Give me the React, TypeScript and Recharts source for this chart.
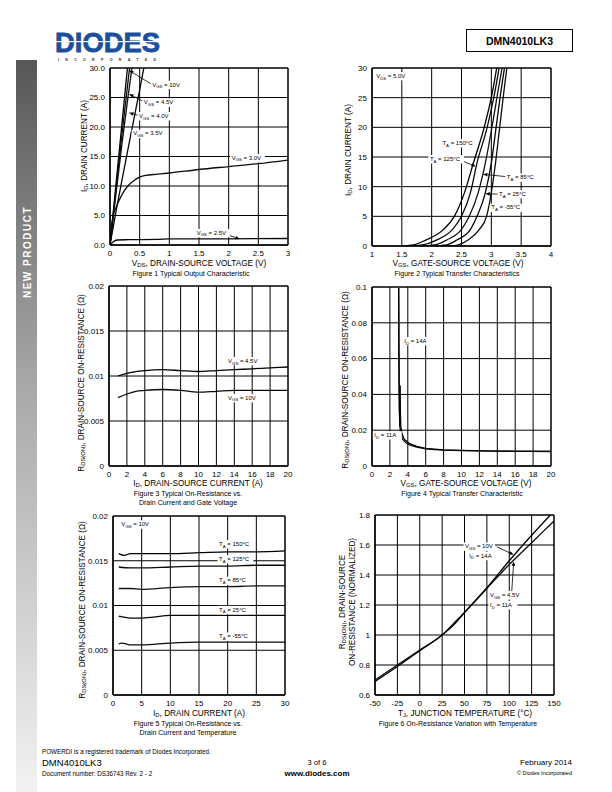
import React from 'react';
import { ComposedChart, Line, XAxis, YAxis, CartesianGrid, ReferenceLine, ReferenceArea, Scatter } from 'recharts';

const FONT = '"Liberation Sans", Arial, Helvetica, sans-serif';

type Pt = { x: number; y: number };
type Anno = { x: number; y: number; text: string };
type Arrow = { from: Pt; to: Pt };

// ---------- Figure 1: Typical Output Characteristic ----------
const f1XTicks = [0, 0.5, 1, 1.5, 2, 2.5, 3];
const f1YTicks = [0, 5, 10, 15, 20, 25, 30];
const f1Vgs10: Pt[] = [{ x: 0, y: 0 }, { x: 0.1, y: 10.2 }, { x: 0.2, y: 20.4 }, { x: 0.294, y: 30 }];
const f1Vgs45: Pt[] = [{ x: 0, y: 0 }, { x: 0.1, y: 9.4 }, { x: 0.2, y: 18.6 }, { x: 0.33, y: 30 }];
const f1Vgs40: Pt[] = [{ x: 0, y: 0 }, { x: 0.1, y: 8.6 }, { x: 0.2, y: 17 }, { x: 0.3, y: 24.8 }, { x: 0.37, y: 30 }];
const f1Vgs35: Pt[] = [{ x: 0, y: 0 }, { x: 0.1, y: 5.6 }, { x: 0.2, y: 10.9 }, { x: 0.3, y: 16.1 }, { x: 0.4, y: 21.2 }, { x: 0.5, y: 26.3 }, { x: 0.57, y: 30 }];
const f1Vgs30: Pt[] = [{ x: 0, y: 0 }, { x: 0.02, y: 2.5 }, { x: 0.05, y: 4.8 }, { x: 0.1, y: 6.3 }, { x: 0.2, y: 8.5 }, { x: 0.3, y: 10 }, { x: 0.4, y: 10.9 }, { x: 0.5, y: 11.5 }, { x: 0.6, y: 11.8 }, { x: 0.8, y: 12 }, { x: 1, y: 12.2 }, { x: 1.5, y: 12.8 }, { x: 2, y: 13.3 }, { x: 2.5, y: 13.8 }, { x: 3, y: 14.4 }];
const f1Vgs25: Pt[] = [{ x: 0, y: 0 }, { x: 0.05, y: 0.5 }, { x: 0.12, y: 0.85 }, { x: 0.3, y: 0.9 }, { x: 0.8, y: 0.95 }, { x: 1, y: 1.05 }, { x: 2, y: 1.05 }, { x: 3, y: 1.1 }];
const f1Annos: Anno[] = [
  { x: 0.71, y: 27.2, text: 'V_{GS} = 10V' },
  { x: 0.57, y: 24.2, text: 'V_{GS} = 4.5V' },
  { x: 0.49, y: 21.9, text: 'V_{GS} = 4.0V' },
  { x: 0.39, y: 18.9, text: 'V_{GS} = 3.5V' },
  { x: 2.05, y: 14.8, text: 'V_{GS} = 3.0V' },
  { x: 1.46, y: 2.1, text: 'V_{GS} = 2.5V' },
];
const f1Arrows: Arrow[] = [
  { from: { x: 0.69, y: 27.3 }, to: { x: 0.32, y: 29.6 } },
  { from: { x: 0.55, y: 24.4 }, to: { x: 0.32, y: 25.6 } },
  { from: { x: 0.47, y: 22 }, to: { x: 0.32, y: 22.4 } },
  { from: { x: 1.94, y: 1.86 }, to: { x: 2.19, y: 1.0 } },
];

// ---------- Figure 2: Typical Transfer Characteristics ----------
const f2XTicks = [1, 1.5, 2, 2.5, 3, 3.5, 4];
const f2YTicks = [0, 5, 10, 15, 20, 25, 30];
const f2Currents = [0, 0.2, 1, 2.8, 5, 9, 14, 20, 26, 30];
const f2T150 = [1.45, 1.7, 1.9, 2.2, 2.38, 2.55, 2.7, 2.88, 3.02, 3.09];
const f2T125 = [1.6, 1.85, 2.08, 2.35, 2.5, 2.65, 2.76, 2.93, 3.06, 3.13];
const f2T85 = [1.8, 2.05, 2.25, 2.5, 2.63, 2.78, 2.9, 3.01, 3.11, 3.18];
const f2T25 = [2.0, 2.25, 2.42, 2.65, 2.76, 2.9, 3.0, 3.08, 3.16, 3.22];
const f2Tm55 = [2.3, 2.45, 2.61, 2.8, 2.92, 3.0, 3.07, 3.14, 3.21, 3.26];
const f2Annos: Anno[] = [
  { x: 1.07, y: 28.7, text: 'V_{DS} = 5.0V' },
  { x: 2.18, y: 17.4, text: 'T_{A} = 150°C' },
  { x: 1.97, y: 14.7, text: 'T_{A} = 125°C' },
  { x: 3.26, y: 11.6, text: 'T_{A} = 85°C' },
  { x: 3.13, y: 8.8, text: 'T_{A} = 25°C' },
  { x: 3.0, y: 6.5, text: 'T_{A} = -55°C' },
];
const f2Arrows: Arrow[] = [
  { from: { x: 2.5, y: 14.4 }, to: { x: 2.74, y: 13.4 } },
  { from: { x: 3.24, y: 11.7 }, to: { x: 2.86, y: 12.1 } },
  { from: { x: 3.12, y: 8.75 }, to: { x: 2.9, y: 8.8 } },
];

// ---------- Figure 3: On-Resistance vs Drain Current and Gate Voltage ----------
const f3XTicks = [0, 2, 4, 6, 8, 10, 12, 14, 16, 18, 20];
const f3YTicks = [0, 0.005, 0.01, 0.015, 0.02];
const f3Vgs45: Pt[] = [{ x: 1, y: 0.01 }, { x: 2, y: 0.0103 }, { x: 4, y: 0.0106 }, { x: 6, y: 0.0107 }, { x: 8, y: 0.0106 }, { x: 10, y: 0.0105 }, { x: 12, y: 0.0106 }, { x: 14, y: 0.0107 }, { x: 16, y: 0.0108 }, { x: 18, y: 0.0109 }, { x: 20, y: 0.011 }];
const f3Vgs10: Pt[] = [{ x: 1, y: 0.0076 }, { x: 2, y: 0.008 }, { x: 3, y: 0.0083 }, { x: 4, y: 0.0084 }, { x: 6, y: 0.0085 }, { x: 8, y: 0.0084 }, { x: 10, y: 0.0082 }, { x: 12, y: 0.0083 }, { x: 14, y: 0.0084 }, { x: 16, y: 0.0084 }, { x: 20, y: 0.0084 }];
const f3Annos: Anno[] = [
  { x: 13.3, y: 0.0117, text: 'V_{GS} = 4.5V' },
  { x: 13.3, y: 0.0076, text: 'V_{GS} = 10V' },
];

// ---------- Figure 4: Typical Transfer Characteristic ----------
const f4XTicks = [0, 2, 4, 6, 8, 10, 12, 14, 16, 18, 20];
const f4YTicks = [0, 0.02, 0.04, 0.06, 0.08, 0.1];
const f4Id14Steep: Pt[] = [{ x: 2.98, y: 0.0995 }, { x: 3.0, y: 0.07 }, { x: 3.03, y: 0.045 }, { x: 3.07, y: 0.03 }, { x: 3.12, y: 0.022 }];
const f4Id14: Pt[] = [{ x: 3.12, y: 0.022 }, { x: 3.2, y: 0.018 }, { x: 3.4, y: 0.015 }, { x: 3.8, y: 0.013 }, { x: 4.2, y: 0.0118 }, { x: 5, y: 0.0105 }, { x: 6, y: 0.0096 }, { x: 7, y: 0.0092 }, { x: 8, y: 0.0089 }, { x: 10, y: 0.0086 }, { x: 12, y: 0.0084 }, { x: 14, y: 0.0083 }, { x: 16, y: 0.0082 }, { x: 18, y: 0.0082 }, { x: 20, y: 0.0082 }];
const f4Id11: Pt[] = [{ x: 3.15, y: 0.045 }, { x: 3.17, y: 0.03 }, { x: 3.22, y: 0.022 }, { x: 3.35, y: 0.018 }, { x: 3.6, y: 0.015 }, { x: 4.2, y: 0.0125 }, { x: 5, y: 0.011 }, { x: 6, y: 0.0098 }, { x: 8, y: 0.009 }, { x: 10, y: 0.0087 }, { x: 14, y: 0.0083 }, { x: 20, y: 0.0081 }];
const f4Annos: Anno[] = [
  { x: 3.6, y: 0.07, text: 'I_{D} = 14A' },
  { x: 0.26, y: 0.0174, text: 'I_{D} = 11A' },
];

// ---------- Figure 5: On-Resistance vs Drain Current and Temperature ----------
const f5XTicks = [0, 5, 10, 15, 20, 25, 30];
const f5YTicks = [0, 0.005, 0.01, 0.015, 0.02];
const f5T150: Pt[] = [{ x: 1, y: 0.0158 }, { x: 2, y: 0.0156 }, { x: 3, y: 0.0158 }, { x: 5, y: 0.0158 }, { x: 10, y: 0.0158 }, { x: 15, y: 0.0159 }, { x: 20, y: 0.016 }, { x: 25, y: 0.016 }, { x: 30, y: 0.0161 }];
const f5T125: Pt[] = [{ x: 1, y: 0.0143 }, { x: 3, y: 0.0142 }, { x: 5, y: 0.0142 }, { x: 10, y: 0.0143 }, { x: 15, y: 0.0144 }, { x: 20, y: 0.0144 }, { x: 25, y: 0.0145 }, { x: 30, y: 0.0145 }];
const f5T85: Pt[] = [{ x: 1, y: 0.0119 }, { x: 3, y: 0.0119 }, { x: 5, y: 0.0118 }, { x: 10, y: 0.012 }, { x: 15, y: 0.0121 }, { x: 20, y: 0.0121 }, { x: 25, y: 0.0122 }, { x: 30, y: 0.0122 }];
const f5T25: Pt[] = [{ x: 1, y: 0.0088 }, { x: 3, y: 0.0086 }, { x: 5, y: 0.0086 }, { x: 7, y: 0.0087 }, { x: 10, y: 0.0089 }, { x: 15, y: 0.0089 }, { x: 20, y: 0.0089 }, { x: 25, y: 0.0089 }, { x: 30, y: 0.0089 }];
const f5Tm55: Pt[] = [{ x: 1, y: 0.0057 }, { x: 1.5, y: 0.0058 }, { x: 3, y: 0.0056 }, { x: 5, y: 0.0056 }, { x: 10, y: 0.0058 }, { x: 15, y: 0.0059 }, { x: 20, y: 0.0059 }, { x: 30, y: 0.0059 }];
const f5Annos: Anno[] = [
  { x: 1.46, y: 0.0191, text: 'V_{GS} = 10V' },
  { x: 18.5, y: 0.0169, text: 'T_{A} = 150°C' },
  { x: 18.5, y: 0.01522, text: 'T_{A} = 125°C' },
  { x: 18.5, y: 0.0128, text: 'T_{A} = 85°C' },
  { x: 18.5, y: 0.00955, text: 'T_{A} = 25°C' },
  { x: 18.5, y: 0.00657, text: 'T_{A} = -55°C' },
];

// ---------- Figure 6: On-Resistance Variation with Temperature ----------
const f6XTicks = [-50, -25, 0, 25, 50, 75, 100, 125, 150];
const f6YTicks = [0.6, 0.8, 1, 1.2, 1.4, 1.6, 1.8];
const f6Vgs10: Pt[] = [{ x: -50, y: 0.69 }, { x: -25, y: 0.79 }, { x: 0, y: 0.895 }, { x: 25, y: 1.0 }, { x: 40, y: 1.08 }, { x: 50, y: 1.15 }, { x: 75, y: 1.315 }, { x: 100, y: 1.495 }, { x: 125, y: 1.665 }, { x: 146, y: 1.8 }];
const f6Vgs45: Pt[] = [{ x: -50, y: 0.7 }, { x: -25, y: 0.8 }, { x: 0, y: 0.9 }, { x: 25, y: 1.0 }, { x: 40, y: 1.09 }, { x: 50, y: 1.15 }, { x: 75, y: 1.31 }, { x: 100, y: 1.47 }, { x: 125, y: 1.615 }, { x: 150, y: 1.76 }];
const f6Annos: Anno[] = [
  { x: 50.6, y: 1.592, text: 'V_{GS} = 10V' },
  { x: 55.4, y: 1.53, text: 'I_{D} = 14A' },
  { x: 78.5, y: 1.268, text: 'V_{GS} = 4.5V' },
  { x: 78.5, y: 1.202, text: 'I_{D} = 11A' },
];
const f6Arrows: Arrow[] = [
  { from: { x: 86, y: 1.588 }, to: { x: 105, y: 1.535 } },
  { from: { x: 102.7, y: 1.282 }, to: { x: 105, y: 1.49 } },
];

// ---------- rich text helpers ----------
function parseRich(s: string) {
  const parts: { t: string; sub: boolean }[] = [];
  const re = /_\{([^}]*)\}/g;
  let last = 0;
  let m: RegExpExecArray | null;
  while ((m = re.exec(s))) {
    if (m.index > last) parts.push({ t: s.slice(last, m.index), sub: false });
    parts.push({ t: m[1], sub: true });
    last = re.lastIndex;
  }
  if (last < s.length) parts.push({ t: s.slice(last), sub: false });
  return parts;
}

function richSpans(text: string, fs: number) {
  const parts = parseRich(text);
  let shifted = false;
  return parts.map((p, i) => {
    let dy = 0;
    if (p.sub && !shifted) { dy = fs * 0.3; shifted = true; }
    else if (!p.sub && shifted) { dy = -fs * 0.3; shifted = false; }
    return (
      <tspan key={i} dy={dy ? dy : undefined} fontSize={p.sub ? fs * 0.72 : fs}>{p.t}</tspan>
    );
  });
}

function approxWidth(text: string, fs: number) {
  return parseRich(text).reduce((w, p) => w + p.t.length * 0.56 * fs * (p.sub ? 0.72 : 1), 0);
}

function T(props: { x: number; y: number; text: string; fs?: number; anchor?: 'start' | 'middle' | 'end'; rot?: number; weight?: any; fill?: string; ls?: number }) {
  const { x, y, text, fs = 8, anchor = 'middle', rot = 0, weight = 'normal', fill = '#000', ls } = props;
  return (
    <text x={x} y={y} fontSize={fs} fontFamily={FONT} textAnchor={anchor} dominantBaseline="central" fontWeight={weight} fill={fill}
      letterSpacing={ls} transform={rot ? `rotate(${rot} ${x} ${y})` : undefined}>
      {richSpans(text, fs)}
    </text>
  );
}

const ANNO_FS = 6;
const annoShape = (props: any) => {
  const { cx, cy, payload } = props;
  if (cx == null || cy == null || !payload) return <g />;
  const w = approxWidth(payload.text, ANNO_FS);
  return (
    <g>
      <rect x={cx - 1.5} y={cy - ANNO_FS * 0.62} width={w + 3} height={ANNO_FS * 1.4} fill="#fff" />
      <text x={cx} y={cy} fontSize={ANNO_FS} fontFamily={FONT} dominantBaseline="central" fill="#000">
        {richSpans(payload.text, ANNO_FS)}
      </text>
    </g>
  );
};

const noShape = () => <g />;

const arrowShape = (p: any) => {
  const { x1, y1, x2, y2 } = p;
  if ([x1, y1, x2, y2].some((v) => v == null || isNaN(v))) return <g />;
  const a = Math.atan2(y2 - y1, x2 - x1);
  const L = 4.5, W = 1.8;
  const bx = x2 - L * Math.cos(a), by = y2 - L * Math.sin(a);
  const px = -Math.sin(a) * W, py = Math.cos(a) * W;
  return (
    <g>
      <line x1={x1} y1={y1} x2={bx} y2={by} stroke="#000" strokeWidth={0.8} />
      <polygon points={`${x2},${y2} ${bx + px},${by + py} ${bx - px},${by - py}`} fill="#000" />
    </g>
  );
};

type PanelProps = {
  name: string;
  px: number; py: number; pw: number; ph: number;
  xDomain: [number, number]; xTicks: number[];
  yDomain: [number, number]; yTicks: number[];
  yFmt?: (v: number) => string;
  series: Pt[][];
  scatterLines?: Pt[][];
  annos?: Anno[];
  arrows?: Arrow[];
  sw?: number;
  curve?: 'monotone' | 'linear';
};

const ML = 44, MT = 8, MR = 14, MB = 20;
const SERIES_STROKES = ['#000000', '#0a0a0a', '#111111', '#050505', '#0d0d0d', '#080808', '#030303'];

function Panel(p: PanelProps) {
  const tick = { fontSize: 8, fill: '#000', fontFamily: FONT };
  return (
    <div style={{ position: 'absolute', left: p.px - ML, top: p.py - MT }}>
      <ComposedChart width={p.pw + ML + MR} height={p.ph + MT + MB} margin={{ top: MT, right: MR, bottom: 0, left: 0 }}>
        <CartesianGrid stroke="#000" strokeWidth={1} strokeOpacity={1} />
        <XAxis type="number" dataKey="x" domain={p.xDomain} ticks={p.xTicks} allowDataOverflow interval={0}
          tickLine={false} axisLine={{ stroke: '#000' }} tick={tick} height={MB} tickSize={3} tickMargin={2} />
        <YAxis type="number" domain={p.yDomain} ticks={p.yTicks} allowDataOverflow interval={0}
          tickLine={false} axisLine={{ stroke: '#000' }} tick={tick} width={ML} tickSize={3} tickMargin={2}
          tickFormatter={p.yFmt} />
        <ReferenceArea x1={p.xDomain[0]} x2={p.xDomain[1]} y1={p.yDomain[0]} y2={p.yDomain[1]} fill="none" fillOpacity={0} stroke="#000" strokeWidth={1} ifOverflow="visible" />
        {p.series.map((s, i) => (
          <Line key={`${p.name}-s${i}`} id={`${p.name}-s${i}`} name={`${p.name}-s${i}`} data={s} dataKey="y" type={p.curve ?? 'monotone'}
            stroke={SERIES_STROKES[i % SERIES_STROKES.length]} strokeWidth={p.sw ?? 1.3} dot={false} activeDot={false} isAnimationActive={false} legendType="none" />
        ))}
        {(p.scatterLines || []).map((s, i) => (
          <Scatter key={`${p.name}-sl${i}`} data={s} dataKey="y" line={{ stroke: '#000', strokeWidth: 1.3 }} lineType="joint"
            shape={noShape} isAnimationActive={false} legendType="none" />
        ))}
        {(p.arrows || []).map((a, i) => (
          <ReferenceLine key={'a' + i} segment={[a.from, a.to]} shape={arrowShape} ifOverflow="visible" />
        ))}
        {p.annos && p.annos.length > 0 && (
          <Scatter data={p.annos} dataKey="y" shape={annoShape} isAnimationActive={false} legendType="none" />
        )}
      </ComposedChart>
    </div>
  );
}

const toPts = (xs: number[], ys: number[]): Pt[] => xs.map((x, i) => ({ x, y: ys[i] }));

export default function App() {
  return (
    <div style={{ position: 'absolute', left: 0, top: 0, width: 612, height: 792, background: '#fff', overflow: 'hidden' }}>
      <svg width={612} height={792} style={{ position: 'absolute', left: 0, top: 0 }}>
        <defs>
          <linearGradient id="side" x1="0" y1="0" x2="0" y2="1">
            <stop offset="0" stopColor="#575757" />
            <stop offset="0.45" stopColor="#a9a9a9" />
            <stop offset="1" stopColor="#f2f2f2" />
          </linearGradient>
        </defs>
        {/* header */}
        <text x={55} y={52} fontSize={27} fontWeight={900} fontFamily={FONT} fill="#1b4f9c" textLength={105} lengthAdjust="spacingAndGlyphs"
          stroke="#1b4f9c" strokeWidth={0.8}>DIODES</text>
        <rect x={55} y={41} width={106} height={1.2} fill="#fff" />
        <text x={58} y={60.5} fontSize={3.6} fontWeight={700} fontFamily={FONT} fill="#333" textLength={98} lengthAdjust="spacing">INCORPORATED</text>
        <rect x={466.5} y={29.5} width={106} height={22} fill="none" stroke="#000" strokeWidth={1} />
        <T x={519.5} y={40.5} text="DMN4010LK3" fs={10.5} weight={700} />
        {/* side bar */}
        <rect x={16} y={60} width={21} height={732} fill="url(#side)" />
        <T x={27} y={252} text="NEW PRODUCT" fs={10} weight={700} fill="#fff" rot={-90} ls={1.5} />

        {/* Figure 1 texts */}
        <T x={84} y={146} text="I_{D}, DRAIN CURRENT (A)" fs={8.2} rot={-90} />
        <T x={199} y={263} text="V_{DS}, DRAIN-SOURCE VOLTAGE (V)" fs={8.2} />
        <T x={191} y={273} text="Figure 1 Typical Output Characteristic" fs={7} />
        {/* Figure 2 texts */}
        <T x={348} y={150} text="I_{D}, DRAIN CURRENT (A)" fs={8.2} rot={-90} />
        <T x={458} y={263} text="V_{GS}, GATE-SOURCE VOLTAGE (V)" fs={8.2} />
        <T x={457} y={272.5} text="Figure 2 Typical Transfer Characteristics" fs={7} />
        {/* Figure 3 texts */}
        <T x={81} y={383} text="R_{DS(ON)}, DRAIN-SOURCE ON-RESISTANCE (Ω)" fs={8.2} rot={-90} />
        <T x={198} y={483} text="I_{D}, DRAIN-SOURCE CURRENT (A)" fs={8.2} />
        <T x={188} y={493} text="Figure 3 Typical On-Resistance vs." fs={7} />
        <T x={188} y={501.5} text="Drain Current and Gate Voltage" fs={7} />
        {/* Figure 4 texts */}
        <T x={345} y={380} text="R_{DS(ON)}, DRAIN-SOURCE ON-RESISTANCE (Ω)" fs={8.2} rot={-90} />
        <T x={466} y={482.5} text="V_{GS}, GATE-SOURCE VOLTAGE (V)" fs={8.2} />
        <T x={462} y={493} text="Figure 4 Typical Transfer Characteristic" fs={7} />
        {/* Figure 5 texts */}
        <T x={82} y={610} text="R_{DS(ON)}, DRAIN-SOURCE ON-RESISTANCE (Ω)" fs={8.2} rot={-90} />
        <T x={199} y={713} text="I_{D}, DRAIN CURRENT (A)" fs={8.2} />
        <T x={188} y={723} text="Figure 5 Typical On-Resistance vs." fs={7} />
        <T x={188} y={731.5} text="Drain Current and Temperature" fs={7} />
        {/* Figure 6 texts */}
        <T x={342} y={602} text="R_{DS(ON)}, DRAIN-SOURCE" fs={8.2} rot={-90} />
        <T x={352} y={602} text="ON-RESISTANCE (NORMALIZED)" fs={8.2} rot={-90} />
        <T x={465} y={713} text="T_{J}, JUNCTION TEMPERATURE (°C)" fs={8.2} />
        <T x={458} y={723} text="Figure 6 On-Resistance Variation with Temperature" fs={7} />

        {/* footer */}
        <T x={42} y={751} text="POWERDI is a registered trademark of Diodes Incorporated." fs={6.3} anchor="start" />
        <T x={42} y={761.5} text="DMN4010LK3" fs={9.5} anchor="start" />
        <T x={42} y={772.5} text="Document number: DS36743 Rev. 2 - 2" fs={6.3} anchor="start" />
        <T x={317} y={761.5} text="3 of 6" fs={7.5} />
        <T x={317} y={772.5} text="www.diodes.com" fs={8} weight={700} />
        <T x={572} y={761.5} text="February 2014" fs={8} anchor="end" />
        <T x={572} y={772.5} text="© Diodes Incorporated" fs={5.5} anchor="end" />
      </svg>

      <Panel name="f1" px={110} py={68} pw={178} ph={177} xDomain={[0, 3]} xTicks={f1XTicks} yDomain={[0, 30]} yTicks={f1YTicks}
        yFmt={(v) => v.toFixed(1)} series={[f1Vgs10, f1Vgs45, f1Vgs40, f1Vgs35, f1Vgs30, f1Vgs25]} annos={f1Annos} arrows={f1Arrows} />
      <Panel name="f2" px={372} py={68} pw={179} ph={178} xDomain={[1, 4]} xTicks={f2XTicks} yDomain={[0, 30]} yTicks={f2YTicks}
        series={[toPts(f2T150, f2Currents), toPts(f2T125, f2Currents), toPts(f2T85, f2Currents), toPts(f2T25, f2Currents), toPts(f2Tm55, f2Currents)]}
        annos={f2Annos} arrows={f2Arrows} />
      <Panel name="f3" px={109} py={286} pw={179} ph={180} xDomain={[0, 20]} xTicks={f3XTicks} yDomain={[0, 0.02]} yTicks={f3YTicks}
        series={[f3Vgs45, f3Vgs10]} annos={f3Annos} />
      <Panel name="f4" px={372} py={287} pw={179} ph={179} xDomain={[0, 20]} xTicks={f4XTicks} yDomain={[0, 0.1]} yTicks={f4YTicks}
        series={[f4Id11, f4Id14, f4Id14Steep]} scatterLines={[f4Id14Steep]} annos={f4Annos} curve="linear" />
      <Panel name="f5" px={113} py={516} pw={172} ph={179} xDomain={[0, 30]} xTicks={f5XTicks} yDomain={[0, 0.02]} yTicks={f5YTicks}
        series={[f5T150, f5T125, f5T85, f5T25, f5Tm55]} annos={f5Annos} />
      <Panel name="f6" px={375} py={515} pw={179} ph={180} xDomain={[-50, 150]} xTicks={f6XTicks} yDomain={[0.6, 1.8]} yTicks={f6YTicks}
        series={[f6Vgs10, f6Vgs45]} annos={f6Annos} arrows={f6Arrows} />
    </div>
  );
}
